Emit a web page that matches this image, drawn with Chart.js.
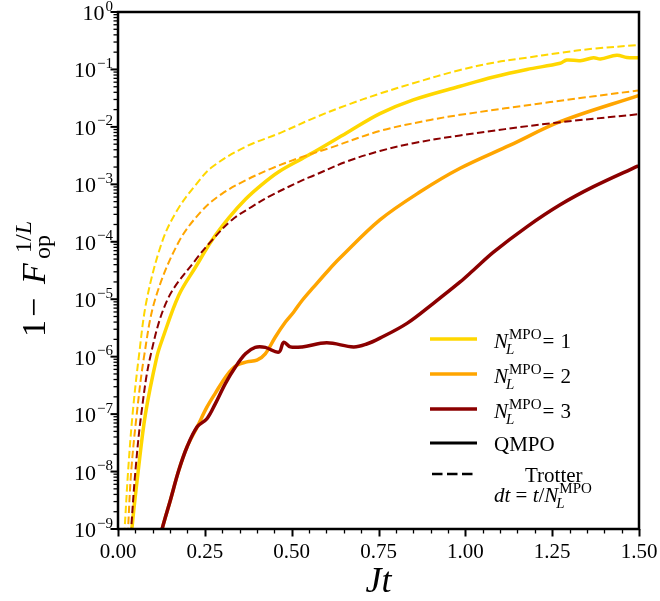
<!DOCTYPE html>
<html>
<head>
<meta charset="utf-8">
<title>QMPO vs Trotter error</title>
<script src="https://cdn.jsdelivr.net/npm/chart.js@4.4.1/dist/chart.umd.min.js"></script>
<style>
    html, body { margin: 0; padding: 0; background: #fff; }
    #wrap { width: 660px; height: 601px; }
</style>
</head>
<body>
<div id="wrap"><canvas id="errChart" width="660" height="601"></canvas></div>
<script>
/* ===== Data ===== */

var xTickValues = [0, 0.25, 0.5, 0.75, 1.0, 1.25, 1.5];
var xTickLabels = ['0.00', '0.25', '0.50', '0.75', '1.00', '1.25', '1.50'];
var yTickExponents = [0, -1, -2, -3, -4, -5, -6, -7, -8, -9];

// QMPO, N_L^MPO = 1 (gold, solid)
var tQmpo1 = [0.038, 0.040, 0.058, 0.079, 0.112, 0.127, 0.175, 0.223, 0.271, 0.319, 0.367, 0.415, 0.463, 0.530, 0.563, 0.659, 0.754, 0.850, 0.985, 1.081, 1.177, 1.273, 1.292, 1.331, 1.369, 1.389, 1.436, 1.465, 1.498];
var errQmpo1 = [5e-10, 1e-9, 1e-8, 1e-7, 1e-6, 1.95e-6, 1.17e-5, 3.6e-5, 1.07e-4, 2.6e-4, 5.5e-4, 1.0e-3, 1.66e-3, 2.8e-3, 3.6e-3, 7.9e-3, 1.7e-2, 2.95e-2, 5.1e-2, 7.4e-2, 0.100, 0.128, 0.146, 0.142, 0.160, 0.152, 0.176, 0.162, 0.160];

// QMPO, N_L^MPO = 2 (orange, solid)
var tQmpo2 = [0.121, 0.127, 0.151, 0.175, 0.199, 0.228, 0.256, 0.280, 0.314, 0.342, 0.371, 0.400, 0.424, 0.453, 0.482, 0.506, 0.530, 0.563, 0.606, 0.639, 0.754, 0.870, 0.985, 1.129, 1.273, 1.498];
var errQmpo2 = [6.3e-10, 1e-9, 3.2e-9, 1.05e-8, 2.7e-8, 6.0e-8, 1.32e-7, 2.3e-7, 4.8e-7, 7.1e-7, 8.1e-7, 8.7e-7, 1.12e-6, 2.2e-6, 4.0e-6, 6.0e-6, 9.5e-6, 1.62e-5, 3.2e-5, 5.2e-5, 2.4e-4, 7.4e-4, 1.9e-3, 4.8e-3, 1.23e-2, 3.5e-2];

// QMPO, N_L^MPO = 3 (dark red, solid)
var tQmpo3 = [0.121, 0.127, 0.151, 0.175, 0.199, 0.228, 0.256, 0.280, 0.309, 0.338, 0.367, 0.395, 0.424, 0.463, 0.477, 0.496, 0.530, 0.601, 0.678, 0.716, 0.754, 0.832, 0.908, 0.985, 1.023, 1.081, 1.177, 1.273, 1.369, 1.498];
var errQmpo3 = [6.3e-10, 1e-9, 3.2e-9, 1.05e-8, 2.7e-8, 6.0e-8, 8.3e-8, 1.51e-7, 3.4e-7, 6.6e-7, 1.12e-6, 1.45e-6, 1.45e-6, 1.2e-6, 1.78e-6, 1.48e-6, 1.48e-6, 1.74e-6, 1.48e-6, 1.66e-6, 2.1e-6, 3.8e-6, 8.5e-6, 2.0e-5, 3.2e-5, 6.6e-5, 1.82e-4, 4.4e-4, 9.1e-4, 2.1e-3];

// Trotter, dt = t / N_L^MPO (dashed)
var tTrot1 = [0.015, 0.019, 0.029, 0.042, 0.060, 0.083, 0.127, 0.170, 0.225, 0.271, 0.367, 0.466, 0.562, 0.659, 0.754, 0.850, 0.985, 1.081, 1.177, 1.273, 1.369, 1.498];
var errTrot1 = [5e-10, 1e-9, 1e-8, 1e-7, 1e-6, 1e-5, 1e-4, 3.5e-4, 1e-3, 2.0e-3, 4.5e-3, 7.8e-3, 1.41e-2, 2.4e-2, 3.8e-2, 5.75e-2, 9.8e-2, 0.131, 0.160, 0.195, 0.230, 0.266];

var tTrot2 = [0.027, 0.029, 0.038, 0.054, 0.075, 0.107, 0.175, 0.242, 0.300, 0.367, 0.443, 0.530, 0.610, 0.754, 0.899, 0.985, 1.244, 1.497];
var errTrot2 = [5e-10, 1e-9, 1e-8, 1e-7, 1e-6, 1e-5, 1e-4, 3.5e-4, 6.9e-4, 1.17e-3, 1.9e-3, 3.0e-3, 4.3e-3, 8.5e-3, 1.32e-2, 1.62e-2, 2.7e-2, 4.3e-2];

var tTrot3 = [0.036, 0.038, 0.050, 0.067, 0.093, 0.143, 0.223, 0.271, 0.328, 0.386, 0.443, 0.530, 0.562, 0.659, 0.754, 0.850, 0.985, 1.244, 1.498];
var errTrot3 = [5e-10, 1e-9, 1e-8, 1e-7, 1e-6, 1e-5, 4.8e-5, 1.07e-4, 2.4e-4, 4.1e-4, 6.5e-4, 1.17e-3, 1.41e-3, 2.5e-3, 3.8e-3, 5.2e-3, 7.1e-3, 1.15e-2, 1.66e-2];

var legendValues = ['1', '2', '3'];

(function () {
    'use strict';

    var GOLD = '#ffd700';
    var ORANGE = '#ffa500';
    var DARKRED = '#8b0000';
    var SERIF = "'Liberation Serif', 'DejaVu Serif', serif";

    function font(size, italic) {
        return (italic ? 'italic ' : '') + size + 'px ' + SERIF;
    }

    function zip(xs, ys) {
        return xs.map(function (x, i) { return { x: x, y: ys[i] }; });
    }

    function solid(label, xs, ys, color, order) {
        return {
            label: label,
            data: zip(xs, ys),
            borderColor: color,
            borderWidth: 3.5,
            pointRadius: 0,
            tension: 0.35,
            clip: 0,
            order: order,
        };
    }

    function dashed(label, xs, ys, color, order) {
        return {
            label: label,
            data: zip(xs, ys),
            borderColor: color,
            borderWidth: 2,
            borderDash: [7.5, 3.5],
            pointRadius: 0,
            tension: 0.35,
            clip: 0,
            order: order,
        };
    }

    // draws pieces [text, size, italic] one after another along a baseline
    function drawRun(ctx, pieces, x, y) {
        pieces.forEach(function (p) {
            ctx.font = font(p[1], p[2]);
            ctx.fillText(p[0], x, y);
            x += ctx.measureText(p[0]).width;
        });
        return x;
    }

    // N_L^MPO with stacked sub/superscript, returns the x after it
    function drawNL(ctx, x, y) {
        ctx.font = font(21, true);
        ctx.fillText('N', x, y);
        var after = x + ctx.measureText('N').width;
        ctx.font = font(15, false);
        ctx.fillText('MPO', after + 1, y - 9);
        var w = ctx.measureText('MPO').width;
        ctx.font = font(15, true);
        ctx.fillText('L', after - 2, y + 6);
        return after + 1 + w;
    }

    /* ===== Frame, ticks, labels, legend ===== */

    var decorPlugin = {
        id: 'decor',
        afterDraw: function (chart) {
            var ctx = chart.ctx;
            var area = chart.chartArea;
            var xs = chart.scales.x;
            var ys = chart.scales.y;

            ctx.save();
            ctx.fillStyle = '#000';
            ctx.strokeStyle = '#000';

            // x ticks: major every 0.25, minor every 0.05
            for (var k = 0; k <= 30; k++) {
                var px = Math.round(xs.getPixelForValue(k * 0.05)) + 0.5;
                var major = k % 5 === 0;
                ctx.lineWidth = major ? 2 : 1.3;
                ctx.beginPath();
                ctx.moveTo(px, area.bottom);
                ctx.lineTo(px, area.bottom + (major ? 7.5 : 4.5));
                ctx.stroke();
            }

            // y ticks: decades and 2..9 minors
            yTickExponents.forEach(function (e) {
                var py = ys.getPixelForValue(Math.pow(10, e));
                ctx.lineWidth = 2;
                ctx.beginPath();
                ctx.moveTo(area.left, py);
                ctx.lineTo(area.left - 7.5, py);
                ctx.stroke();
                if (e === 0) return;
                for (var m = 2; m <= 9; m++) {
                    var pm = ys.getPixelForValue(m * Math.pow(10, e));
                    ctx.lineWidth = 1.3;
                    ctx.beginPath();
                    ctx.moveTo(area.left, pm);
                    ctx.lineTo(area.left - 4.5, pm);
                    ctx.stroke();
                }
            });

            // frame
            ctx.lineWidth = 2.5;
            ctx.strokeRect(area.left, area.top, area.right - area.left, area.bottom - area.top);

            // x tick labels
            ctx.textAlign = 'center';
            ctx.textBaseline = 'alphabetic';
            ctx.font = font(21, false);
            xTickValues.forEach(function (v, i) {
                ctx.fillText(xTickLabels[i], xs.getPixelForValue(v), 558);
            });

            // y tick labels 10^e
            ctx.textAlign = 'right';
            yTickExponents.forEach(function (e) {
                var py = ys.getPixelForValue(Math.pow(10, e));
                var exp = e < 0 ? '\u2212' + (-e) : String(e);
                ctx.font = font(15, false);
                ctx.fillText(exp, 113, py - 1.5);
                var w = ctx.measureText(exp).width;
                ctx.font = font(22, false);
                ctx.fillText('10', 113 - w - 1, py + 8);
            });

            // x title
            ctx.textAlign = 'center';
            ctx.font = font(36, true);
            ctx.fillText('Jt', (area.left + area.right) / 2, 592);

            // y title, rotated: 1 - F_op^{1/L}
            ctx.save();
            ctx.translate(45, 337);
            ctx.rotate(-Math.PI / 2);
            ctx.textAlign = 'left';
            ctx.font = font(34, false);
            ctx.fillText('1', 0, 0);
            ctx.fillText('\u2212', 20, 0);
            ctx.font = font(34, true);
            ctx.fillText('F', 53, 0);
            ctx.font = font(24, false);
            ctx.fillText('op', 78, 5);
            drawRun(ctx, [['1/', 24, false], ['L', 24, true]], 84, -14);
            ctx.restore();

            // legend
            ctx.textAlign = 'left';
            var rows = [
                { color: GOLD, y: 339 },
                { color: ORANGE, y: 374 },
                { color: DARKRED, y: 409 },
            ];
            rows.forEach(function (r, i) {
                ctx.strokeStyle = r.color;
                ctx.lineWidth = 3.5;
                ctx.beginPath();
                ctx.moveTo(430, r.y);
                ctx.lineTo(477, r.y);
                ctx.stroke();
                var after = drawNL(ctx, 494, r.y + 9);
                ctx.font = font(21, false);
                ctx.fillText('=', after + 1, r.y + 9);
                ctx.fillText(legendValues[i], after + 19, r.y + 9);
            });

            ctx.strokeStyle = '#000';
            ctx.lineWidth = 3;
            ctx.beginPath();
            ctx.moveTo(430, 443);
            ctx.lineTo(477, 443);
            ctx.stroke();
            ctx.font = font(21, false);
            ctx.fillText('QMPO', 494, 450.5);

            ctx.lineWidth = 2.5;
            ctx.setLineDash([10.5, 4.5]);
            ctx.beginPath();
            ctx.moveTo(432, 474);
            ctx.lineTo(474, 474);
            ctx.stroke();
            ctx.setLineDash([]);
            ctx.font = font(21, false);
            ctx.fillText('Trotter', 525, 482);
            var xr = drawRun(ctx, [['dt', 21, true], [' = ', 21, false], ['t', 21, true], ['/', 21, false]], 494, 502);
            drawNL(ctx, xr, 502);

            ctx.restore();
        }
    };

    function init() {
        var el = document.getElementById('errChart');
        new Chart(el, {
            type: 'line',
            data: {
                datasets: [
                    solid('QMPO N=3', tQmpo3, errQmpo3, DARKRED, 0),
                    dashed('Trotter N=3', tTrot3, errTrot3, DARKRED, 1),
                    solid('QMPO N=2', tQmpo2, errQmpo2, ORANGE, 2),
                    dashed('Trotter N=2', tTrot2, errTrot2, ORANGE, 3),
                    solid('QMPO N=1', tQmpo1, errQmpo1, GOLD, 4),
                    dashed('Trotter N=1', tTrot1, errTrot1, GOLD, 5),
                ],
            },
            options: {
                responsive: false,
                animation: false,
                devicePixelRatio: 1,
                layout: { padding: { left: 0, top: 12, right: 21, bottom: 0 } },
                plugins: {
                    legend: { display: false },
                    tooltip: { enabled: false },
                },
                scales: {
                    x: {
                        type: 'linear',
                        min: 0,
                        max: 1.5,
                        grid: { display: false },
                        border: { display: false },
                        ticks: { display: false },
                        afterFit: function (s) { s.height = 72; },
                    },
                    y: {
                        type: 'logarithmic',
                        min: 1e-9,
                        max: 1,
                        grid: { display: false },
                        border: { display: false },
                        ticks: { display: false },
                        afterFit: function (s) { s.width = 118; },
                    },
                },
            },
            plugins: [decorPlugin],
        });
    }

    if (document.readyState === 'loading') {
        document.addEventListener('DOMContentLoaded', init);
    } else {
        init();
    }
})();
</script>
</body>
</html>
